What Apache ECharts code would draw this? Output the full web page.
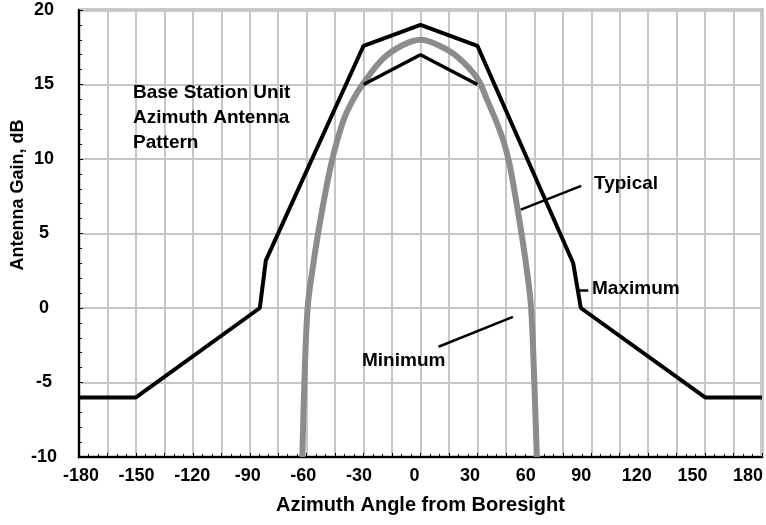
<!DOCTYPE html>
<html><head><meta charset="utf-8">
<script src="https://cdn.jsdelivr.net/npm/echarts@6/dist/echarts.min.js"></script>
<style>html,body{margin:0;padding:0;background:#fff}#c{width:766px;height:525px}</style>
</head><body><div id="c"></div>
<script>
// Data
const maxAngle = [-180, -150, -84.7, -81.5, -30, 0, 30, 80.5, 84.5, 150, 180];
const maxGain  = [-6, -6, 0, 3.2, 17.6, 19, 17.6, 3, 0, -6, -6];
const innerAngle = [-30, 0, 30];
const innerGain  = [15, 17, 15];
const typAngle = [-62.3, -61.2, -59.5, -57, -54, -50.5, -47, -44, -40, -35, -30, -20, -10, 0, 10, 20, 30, 35, 40, 44, 47, 50, 53, 56, 58.3, 60, 61.3];
const typGain  = [-10, -5, 0, 2.5, 5, 7.5, 9.7, 11.2, 12.8, 14.1, 15.1, 16.7, 17.6, 18, 17.6, 16.8, 15.4, 14.0, 12.5, 11.1, 9.6, 7.5, 5.2, 2.6, 0, -5, -10];
const xTickLabels = [-180, -150, -120, -90, -60, -30, 0, 30, 60, 90, 120, 150, 180];
const yTickLabels = [-10, -5, 0, 5, 10, 15, 20];
// annotation leader lines (data coords)
const leaderTypical = [[52.9, 6.6], [84.7, 8.2]];
const leaderMaximum = [[83, 1.2], [88.4, 1.2]];
const leaderMinimum = [[9.5, -2.6], [48.7, -0.6]];

const zip = (a, b) => a.map((v, i) => [v, b[i]]);
const FONT = '"Liberation Sans", Arial, sans-serif';

const chart = echarts.init(document.getElementById('c'), null, {renderer: 'canvas'});
chart.setOption({
  animation: false,
  backgroundColor: '#fff',
  grid: [
    {left: 79, right: 4, top: 10, bottom: 68, containLabel: false, outerBoundsMode: 'none',
     show: true, borderColor: '#9a9a9a', borderWidth: 3, backgroundColor: 'transparent'},
    {left: 81, right: 18, top: 10, bottom: 68, containLabel: false, outerBoundsMode: 'none', show: false}
  ],
  xAxis: [{
    type: 'value', min: -180, max: 180, interval: 15, gridIndex: 0,
    name: 'Azimuth Angle from Boresight', nameLocation: 'middle', nameGap: 38,
    nameTextStyle: {fontFamily: FONT, fontWeight: 'bold', fontSize: 20, color: '#000'},
    axisLine: {show: true, onZero: false, lineStyle: {color: '#000', width: 2}},
    axisTick: {show: true, inside: true, length: 4, lineStyle: {color: '#000'}},
    minorTick: {show: true, splitNumber: 3, length: 3, lineStyle: {color: '#000'}},
    axisLabel: {show: false},
    splitLine: {show: true, lineStyle: {color: '#c6c6c6', width: 2}}
  }, {
    type: 'value', min: -180, max: 180, interval: 30, gridIndex: 1,
    axisLine: {show: false}, axisTick: {show: false}, splitLine: {show: false},
    axisLabel: {fontFamily: FONT, fontWeight: 'bold', fontSize: 18, color: '#000', margin: 10,
      hideOverlap: false, showMaxLabel: true, showMinLabel: true,
      formatter: v => xTickLabels.indexOf(v) >= 0 ? String(v) : ''}
  }],
  yAxis: [{
    type: 'value', min: -10, max: 20, interval: 5, gridIndex: 0,
    axisLine: {show: true, onZero: false, lineStyle: {color: '#000', width: 2}},
    axisTick: {show: true, inside: true, length: 4, lineStyle: {color: '#000'}},
    minorTick: {show: true, splitNumber: 5, length: 3, lineStyle: {color: '#000'}},
    axisLabel: {fontFamily: FONT, fontWeight: 'bold', fontSize: 18, color: '#000', margin: 35, align: 'center',
      formatter: v => yTickLabels.indexOf(v) >= 0 ? String(v) : ''},
    splitLine: {show: true, lineStyle: {color: '#c6c6c6', width: 2}}
  }, {
    type: 'value', min: -10, max: 20, gridIndex: 1, show: false
  }],
  series: [
    {name: 'Typical', type: 'line', data: zip(typAngle, typGain), smooth: 0.35, symbol: 'none',
     lineStyle: {color: '#8c8c8c', width: 6}, z: 2},
    {name: 'Maximum', type: 'line', data: zip(maxAngle, maxGain), symbol: 'none',
     lineStyle: {color: '#000', width: 4}, z: 3},
    {name: 'Minimum', type: 'line', data: zip(innerAngle, innerGain), symbol: 'none',
     lineStyle: {color: '#000', width: 3.5}, z: 3},
    {name: 'leaders', type: 'line', data: [], symbol: 'none', z: 4,
     markLine: {silent: true, symbol: 'none', label: {show: false},
       lineStyle: {color: '#000', width: 2.5, type: 'solid'},
       data: [
         [{coord: leaderTypical[0]}, {coord: leaderTypical[1]}],
         [{coord: leaderMaximum[0]}, {coord: leaderMaximum[1]}],
         [{coord: leaderMinimum[0]}, {coord: leaderMinimum[1]}]
       ]}}
  ],
  graphic: [
    {type: 'text', left: 133, top: 80, z: 10, style: {text: 'Base Station Unit\nAzimuth Antenna\nPattern',
      font: 'bold 19px ' + FONT, fill: '#000', lineHeight: 25}},
    {type: 'text', left: 594, top: 174, z: 10, style: {text: 'Typical', font: 'bold 19px ' + FONT, fill: '#000'}},
    {type: 'text', left: 592, top: 279, z: 10, style: {text: 'Maximum', font: 'bold 19px ' + FONT, fill: '#000'}},
    {type: 'text', left: 362, top: 351, z: 10, style: {text: 'Minimum', font: 'bold 19px ' + FONT, fill: '#000'}},
    {type: 'text', x: 18, y: 195, rotation: Math.PI / 2, z: 10,
     style: {text: 'Antenna Gain, dB', font: 'bold 18px ' + FONT, fill: '#000', align: 'center', verticalAlign: 'middle'}}
  ]
});
</script></body></html>
